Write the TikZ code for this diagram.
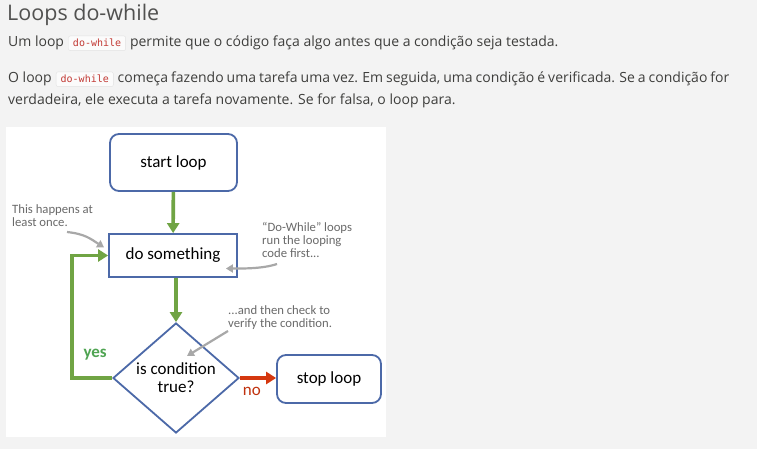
\documentclass[tikz,border=0pt]{standalone}
\usepackage{fontspec}
\setmainfont{Open Sans}
\newfontfamily\diagfont{Carlito}
\newfontfamily\codefont{DejaVu Sans Mono}
\usetikzlibrary{positioning,arrows.meta,shapes.geometric,calc}
\definecolor{pagebg}{HTML}{F3F3F3}
\definecolor{bodyink}{HTML}{3E3E3C}
\definecolor{codeink}{HTML}{C23934}
\definecolor{chipline}{HTML}{E2E2E2}
\definecolor{boxblue}{HTML}{4C69A8}
\definecolor{loopgreen}{HTML}{70A444}
\definecolor{yesgreen}{HTML}{4FA452}
\definecolor{stopred}{HTML}{D5380F}
\definecolor{noteink}{HTML}{6A6A6A}
\definecolor{notearrow}{HTML}{A8A8A8}

\begin{document}
\begin{tikzpicture}[
    x=1pt, y=-1pt,
    bodytext/.style={inner sep=0pt, anchor=base west, text=bodyink,
                     font=\fontsize{14}{16}\selectfont},
    codechip/.style={draw=chipline, fill=white!70!pagebg, rounded corners=2pt,
                     inner xsep=4.5pt, inner ysep=3.5pt, anchor=base west,
                     text=codeink, font=\codefont\fontsize{10}{12}\selectfont},
    flowbox/.style={draw=boxblue, line width=1.8pt, fill=white, text=black,
                    font=\diagfont\fontsize{17}{19}\selectfont},
    note/.style={inner sep=0pt, anchor=base west, align=left, text=noteink,
                 font=\diagfont\fontsize{12.7}{13}\selectfont},
    flow/.style={line width=3.6pt, -{Triangle[length=10pt, width=12pt]}},
    pointer/.style={draw=notearrow, line width=2.2pt,
                    -{Triangle[length=7pt, width=8pt]}}
]
    % Page and picture panel
    \fill[pagebg] (0,0) rectangle (757,449);
    \fill[white] (6,127) rectangle (386,437);

    % Heading and paragraphs
    \node[bodytext, font=\fontsize{21.5}{24}\selectfont, text=bodyink!90] (title) at (7,21) {Loops do-while};
    \node[bodytext] (p1a) at (8,47) {Um loop};
    \node[codechip] (chip1) at ([xshift=4pt]p1a.base east) {do-while};
    \node[bodytext] (p1b) at ([xshift=4pt]chip1.base east) {permite que o código faça algo antes que a condição seja testada.};
    \node[bodytext] (p2a) at (8,83) {O loop};
    \node[codechip] (chip2) at ([xshift=4pt]p2a.base east) {do-while};
    \node[bodytext, execute at begin node={\spaceskip=3pt plus 1pt}] (p2b) at ([xshift=4pt]chip2.base east)
        {começa fazendo uma tarefa uma vez. Em seguida, uma condição é verificada. Se a condição for};
    \node[bodytext] (p3) at (8,105) {verdadeira, ele executa a tarefa novamente. Se for falsa, o loop para.};

    % Flow chart
    \node[flowbox, rounded corners=9pt, minimum width=127pt, minimum height=57pt] (start) at (173.5,162.5) {start loop};
    \node[flowbox, minimum width=128pt, minimum height=43pt] (work) at (173,255.5) {do something};
    \node[flowbox, diamond, inner sep=0pt, align=center, minimum width=126pt, minimum height=110pt,
          font=\diagfont\fontsize{17}{18}\selectfont] (cond) at (176,378) {is condition\\true?};
    \node[flowbox, rounded corners=9pt, minimum width=104pt, minimum height=48pt] (stop) at (329,379) {stop loop};

    % Connectors
    \draw[flow, loopgreen] (start) -- (work);
    \draw[flow, loopgreen] (work.south -| cond.north) -- (cond.north);
    \draw[flow, loopgreen] (cond.west) -- ++(-40,0) |- (work.west);
    \draw[flow, stopred] (cond.east) -- (cond.east -| stop.west);

    % Branch labels
    \node[font=\diagfont\bfseries\fontsize{17}{19}\selectfont, text=yesgreen] (yes) at ([shift={(-17,-23)}]cond.west) {yes};
    \node[font=\diagfont\fontsize{17}{19}\selectfont, text=stopred!90!black] (no) at ([shift={(12,13)}]cond.east) {no};

    % Side notes
    \node[note] (once) at (12,226) {This happens at\\least once.};
    \node[note] (first) at (262,257) {“Do-While” loops\\run the looping\\code first...};
    \node[note] (check) at (228,327) {...and then check to\\verify the condition.};

    \draw[pointer] (67,232) .. controls +(18,2) and +(-14,-9) .. ([shift={(-4,-8)}]work.west);
    \draw[pointer] (277,264) .. controls +(-15,5) and +(15,0) .. ([shift={(-12,13)}]work.east);
    \draw[pointer] (228,331) -- ([shift={(11,-22)}]cond.center);
\end{tikzpicture}
\end{document}
